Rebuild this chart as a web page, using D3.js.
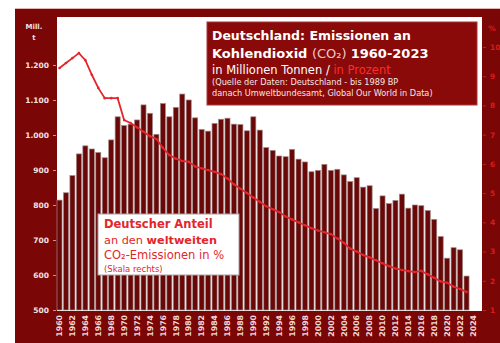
<!DOCTYPE html>
<html><head><meta charset="utf-8">
<script src="https://cdn.jsdelivr.net/npm/d3@7"></script>
<style>body{margin:0;background:#fff}svg{display:block}</style>
</head><body><svg id="c" width="500" height="343"></svg>
<script>
const years = [1960,1961,1962,1963,1964,1965,1966,1967,1968,1969,
  1970,1971,1972,1973,1974,1975,1976,1977,1978,1979,
  1980,1981,1982,1983,1984,1985,1986,1987,1988,1989,
  1990,1991,1992,1993,1994,1995,1996,1997,1998,1999,
  2000,2001,2002,2003,2004,2005,2006,2007,2008,2009,
  2010,2011,2012,2013,2014,2015,2016,2017,2018,2019,
  2020,2021,2022,2023];
const extraYears = [2024];
const emissions = [814,835,884,946,969,960,950,935,986,1052,
  1027,1031,1043,1086,1062,1002,1090,1052,1079,1117,
  1100,1049,1016,1011,1033,1045,1048,1031,1030,1012,
  1052,1014,964,956,940,938,959,931,923,895,
  899,916,899,902,886,867,878,851,855,790,
  826,804,813,831,791,800,798,784,759,710,
  648,678,672,597];
const sharePct = [9.28,9.45,9.62,9.79,9.55,9.05,8.6,8.25,8.25,8.25,
  7.5,7.4,7.25,7.1,6.95,6.85,6.55,6.3,6.18,6.1,
  6.07,5.91,5.85,5.79,5.73,5.65,5.5,5.3,5.15,5.0,
  4.85,4.7,4.55,4.45,4.35,4.2,4.1,4.0,3.9,3.8,
  3.72,3.66,3.6,3.45,3.3,3.1,3.0,2.88,2.8,2.7,
  2.6,2.5,2.42,2.37,2.33,2.3,2.34,2.22,2.1,1.98,
  1.93,1.8,1.72,1.62];
const leftTicks = [500,600,700,800,900,1000,1100,1200];
const rightTicks = [1,2,3,4,5,6,7,8,9,10];
const yearTicks = [1960,1962,1964,1966,1968,1970,1972,1974,1976,1978,1980,1982,1984,1986,1988,1990,
  1992,1994,1996,1998,2000,2002,2004,2006,2008,2010,2012,2014,2016,2018,2020,2022,2024];

const svg = d3.select("#c");
const FR = "#7a0606";
const locale = d3.formatLocale({decimal: ",", thousands: ".", grouping: [3], currency: ["", "€"]});
const fmt = locale.format(",d");

// frame
svg.append("rect").attr("x",15).attr("y",8).attr("width",485).attr("height",335).attr("fill",FR);
svg.append("line").attr("x1",15).attr("x2",500).attr("y1",8.5).attr("y2",8.5).attr("stroke","#e6b4b4").attr("stroke-width",1);
svg.append("rect").attr("x",57).attr("y",17).attr("width",425).attr("height",294).attr("fill","#fff");

const x = d3.scaleBand().domain(years.concat(extraYears)).range([57, 475.5]).paddingInner(0.22).paddingOuter(0);
const y = d3.scaleLinear().domain([500,1200]).range([310,65]);
const y2 = d3.scaleLinear().domain([1,10]).range([310,47]);

// bars
svg.append("g").selectAll("rect").data(years).join("rect")
  .attr("x", d => x(d)).attr("width", x.bandwidth())
  .attr("y", (d,i) => y(emissions[i])).attr("height", (d,i) => y(500) - y(emissions[i]))
  .attr("fill", "#6a0808").attr("stroke","#a08888").attr("stroke-width",0.7);

// left axis
const ax = svg.append("g").attr("transform","translate(56,0)")
  .call(d3.axisLeft(y).tickValues(leftTicks).tickFormat(fmt).tickSize(3).tickPadding(4));
ax.select(".domain").remove();
ax.selectAll("line").attr("stroke","#c89090");
ax.selectAll("text").attr("fill","#f4e2e2").attr("font-family","DejaVu Sans").attr("font-weight","bold").attr("font-size",7.5);
svg.append("text").attr("x",34).attr("y",29).attr("text-anchor","middle").attr("fill","#f4e2e2")
  .attr("font-family","DejaVu Sans").attr("font-weight","bold").attr("font-size",7).text("Mill.");
svg.append("text").attr("x",34).attr("y",40).attr("text-anchor","middle").attr("fill","#f4e2e2")
  .attr("font-family","DejaVu Sans").attr("font-weight","bold").attr("font-size",7).text("t");

// right axis
const ax2 = svg.append("g").attr("transform","translate(483,0)")
  .call(d3.axisRight(y2).tickValues(rightTicks).tickFormat(d3.format("d")).tickSize(3).tickPadding(4));
ax2.select(".domain").remove();
ax2.selectAll("line").attr("stroke","#c02020");
ax2.selectAll("text").attr("fill","#d81c1c").attr("font-family","DejaVu Sans").attr("font-weight","bold").attr("font-size",7.5);
svg.append("text").attr("x",492).attr("y",31).attr("text-anchor","middle").attr("fill","#d81c1c")
  .attr("font-family","DejaVu Sans").attr("font-weight","bold").attr("font-size",7.5).text("%");

// x labels
svg.append("g").selectAll("text").data(yearTicks).join("text")
  .attr("transform", d => `translate(${x(d)+x.bandwidth()/2},315) rotate(-90)`)
  .attr("text-anchor","end").attr("dy","0.35em")
  .attr("fill","#f0dada").attr("font-family","DejaVu Sans").attr("font-weight","bold").attr("font-size",7.8)
  .text(d => String(d));

// share line
const line = d3.line().x((d,i) => x(years[i]) + x.bandwidth()/2).y(d => y2(d));
svg.append("path").datum(sharePct).attr("d", line).attr("fill","none").attr("stroke","#e3262b").attr("stroke-width",1.8);
svg.append("g").selectAll("circle").data(sharePct).join("circle")
  .attr("cx",(d,i) => x(years[i]) + x.bandwidth()/2).attr("cy", d => y2(d)).attr("r",1.3).attr("fill","#e3262b");

// title box
const tb = svg.append("g");
tb.append("rect").attr("x",207).attr("y",22).attr("width",270).attr("height",83).attr("fill","#8a0a0a").attr("stroke","#a83838").attr("stroke-width",1);
tb.append("text").attr("x",212).attr("y",40).attr("font-family","DejaVu Sans").attr("font-weight","bold").attr("font-size",12.5).attr("fill","#fff")
  .text("Deutschland: Emissionen an");
const t2 = tb.append("text").attr("x",212).attr("y",58).attr("font-family","DejaVu Sans").attr("font-size",13).attr("fill","#fff");
t2.append("tspan").attr("font-weight","bold").text("Kohlendioxid ");
t2.append("tspan").attr("fill","#f0c8c8").text("(CO₂) ");
t2.append("tspan").attr("font-weight","bold").text("1960-2023");
const t3 = tb.append("text").attr("x",212).attr("y",74).attr("font-family","DejaVu Sans").attr("font-size",11.5).attr("fill","#fff");
t3.append("tspan").text("in Millionen Tonnen / ");
t3.append("tspan").attr("fill","#ff2a2a").text("in Prozent");
tb.append("text").attr("x",212).attr("y",85).attr("font-family","DejaVu Sans").attr("font-size",8.2).attr("fill","#f4e6e6")
  .text("(Quelle der Daten: Deutschland - bis 1989 BP");
tb.append("text").attr("x",212).attr("y",96).attr("font-family","DejaVu Sans").attr("font-size",8.2).attr("fill","#f4e6e6")
  .text("danach Umweltbundesamt, Global Our World in Data)");

// legend box
const lg = svg.append("g");
lg.append("rect").attr("x",98).attr("y",214).attr("width",141).attr("height",61).attr("fill","#fff").attr("stroke","#b0a0a0").attr("stroke-width",1);
lg.append("text").attr("x",104).attr("y",228).attr("font-family","DejaVu Sans").attr("font-weight","bold").attr("font-size",11.5).attr("fill","#e3262b").text("Deutscher Anteil");
const l2 = lg.append("text").attr("x",104).attr("y",244).attr("font-family","DejaVu Sans").attr("font-size",11.3).attr("fill","#e3262b");
l2.append("tspan").text("an den ");
l2.append("tspan").attr("font-weight","bold").text("weltweiten");
lg.append("text").attr("x",104).attr("y",259).attr("font-family","DejaVu Sans").attr("font-size",11.5).attr("fill","#e3262b").text("CO₂-Emissionen in %");
lg.append("text").attr("x",104).attr("y",272).attr("font-family","DejaVu Sans").attr("font-size",8.5).attr("fill","#e3262b").text("(Skala rechts)");
</script></body></html>
